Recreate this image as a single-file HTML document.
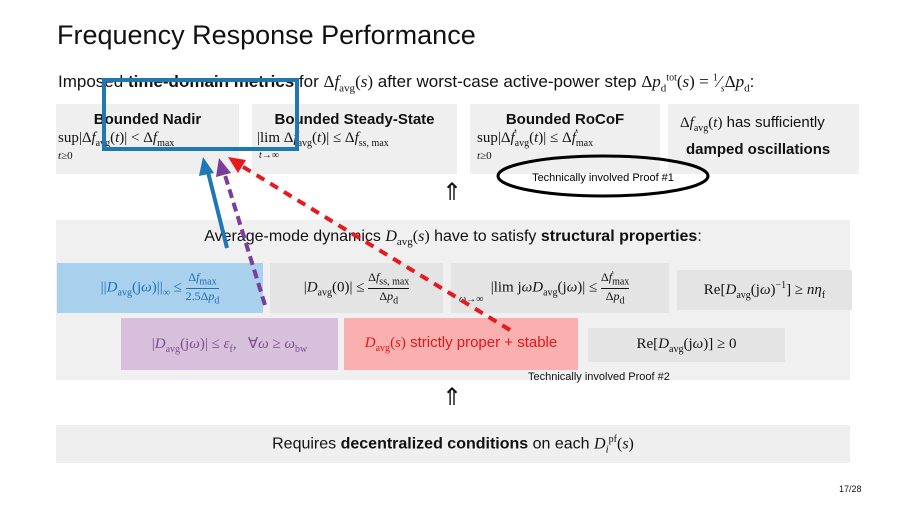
<!DOCTYPE html>
<html><head><meta charset="utf-8"><style>
body{margin:0;width:907px;height:510px;background:#fff;position:relative;overflow:hidden;font-family:"Liberation Sans",sans-serif;color:#111}
.a{position:absolute}
.g{position:absolute;background:#efefef}
.m{font-family:"Liberation Serif",serif;font-style:normal}
.i{font-family:"Liberation Serif",serif;font-style:italic}
.c{display:flex;align-items:center;justify-content:center;text-align:center}
</style></head><body>
<div class="a" style="left:57px;top:20px;font-size:27px;">Frequency Response Performance</div>
<div class="a" style="left:58px;top:72px;font-size:17px;white-space:nowrap">Imposed <b>time-domain metrics</b> for <span class="m">Δ<i>f</i><sub style="font-size:11px">avg</sub>(<i>s</i>)</span> after worst-case active-power step <span class="m">Δ<i>p</i><sub style="font-size:11px">d</sub><sup style="font-size:10px">tot</sup>(<i>s</i>) = <sup style="font-size:10px">1</sup>⁄<sub style="font-size:10px"><i>s</i></sub>Δ<i>p</i><sub style="font-size:11px">d</sub></span>:</div>

<div class="g" style="left:56px;top:104px;width:183px;height:70px"></div>
<div class="g" style="left:252px;top:104px;width:205px;height:70px"></div>
<div class="g" style="left:470px;top:104px;width:190px;height:70px"></div>
<div class="g" style="left:668px;top:104px;width:191px;height:70px"></div>
<div class="a" style="left:56px;top:111px;width:183px;text-align:center;font-size:15px;font-weight:bold">Bounded Nadir</div>
<div class="a m" style="left:58px;top:130px;font-size:15px;white-space:nowrap">sup|Δ<i>f</i><sub style="font-size:10px">avg</sub>(<i>t</i>)| &lt; Δ<i>f</i><sub style="font-size:10px">max</sub></div>
<div class="a m" style="left:58px;top:150px;font-size:11px"><i>t</i>≥0</div>
<div class="a" style="left:252px;top:111px;width:205px;text-align:center;font-size:15px;font-weight:bold">Bounded Steady-State</div>
<div class="a m" style="left:257px;top:130px;font-size:15px;white-space:nowrap">|lim Δ<i>f</i><sub style="font-size:10px">avg</sub>(<i>t</i>)| ≤ Δ<i>f</i><sub style="font-size:10px">ss, max</sub></div>
<div class="a m" style="left:259px;top:150px;font-size:10px"><i>t</i>→∞</div>
<div class="a" style="left:470px;top:111px;width:190px;text-align:center;font-size:15px;font-weight:bold">Bounded RoCoF</div>
<div class="a m" style="left:477px;top:130px;font-size:15px;white-space:nowrap">sup|Δ<i>ḟ</i><sub style="font-size:10px">avg</sub>(<i>t</i>)| ≤ Δ<i>ḟ</i><sub style="font-size:10px">max</sub></div>
<div class="a m" style="left:477px;top:150px;font-size:11px"><i>t</i>≥0</div>
<div class="a" style="left:680px;top:114px;font-size:15px;white-space:nowrap"><span class="m">Δ<i>f</i><sub style="font-size:10px">avg</sub>(<i>t</i>)</span> has sufficiently</div>
<div class="a" style="left:686px;top:141px;font-size:15px;font-weight:bold">damped oscillations</div>

<div class="a" style="left:442px;top:178px;font-size:24px">⇑</div>
<div class="a" style="left:442px;top:383px;font-size:24px">⇑</div>

<div class="g" style="left:56px;top:220px;width:794px;height:160px;background:#f0f0f0"></div>
<div class="a" style="left:56px;top:228px;width:794px;text-align:center;font-size:16px;white-space:nowrap">Average-mode dynamics <span class="i">D</span><sub class="m" style="font-size:11px">avg</sub><span class="m">(<i>s</i>)</span> have to satisfy <b>structural properties</b>:</div>

<div class="a c m" style="left:57px;top:263px;width:206px;height:50px;background:#a9d1ee;color:#1f6fb4;font-size:15px;white-space:nowrap"><span>||<i>D</i><sub style="font-size:10px">avg</sub>(j<i>ω</i>)||<sub style="font-size:10px">∞</sub> ≤ <span style="display:inline-block;text-align:center;font-size:12px;vertical-align:middle"><span style="display:block;border-bottom:1px solid #1f6fb4">Δ<i>f</i><sub>max</sub></span><span style="display:block">2.5Δ<i>p</i><sub>d</sub></span></span></span></div>
<div class="a c m" style="left:270px;top:263px;width:173px;height:50px;background:#e4e4e4;font-size:15px;white-space:nowrap"><span>|<i>D</i><sub style="font-size:10px">avg</sub>(0)| ≤ <span style="display:inline-block;text-align:center;font-size:12px;vertical-align:middle"><span style="display:block;border-bottom:1px solid #111">Δ<i>f</i><sub>ss, max</sub></span><span style="display:block">Δ<i>p</i><sub>d</sub></span></span></span></div>
<div class="a c m" style="left:451px;top:263px;width:218px;height:50px;background:#e4e4e4;font-size:15px;white-space:nowrap"><span>|lim j<i>ωD</i><sub style="font-size:10px">avg</sub>(j<i>ω</i>)| ≤ <span style="display:inline-block;text-align:center;font-size:12px;vertical-align:middle"><span style="display:block;border-bottom:1px solid #111">Δ<i>ḟ</i><sub>max</sub></span><span style="display:block">Δ<i>p</i><sub>d</sub></span></span></span></div>
<div class="a m" style="left:459px;top:294px;font-size:10px"><i>ω</i>→∞</div>
<div class="a c m" style="left:677px;top:270px;width:175px;height:40px;background:#e4e4e4;font-size:15px;white-space:nowrap"><span>Re[<i>D</i><sub style="font-size:10px">avg</sub>(j<i>ω</i>)<sup style="font-size:10px">−1</sup>] ≥ <i>nη</i><sub style="font-size:10px">f</sub></span></div>

<div class="a c m" style="left:121px;top:318px;width:217px;height:52px;background:#d8c0dd;color:#7a4f8a;font-size:15px;white-space:nowrap"><span>|<i>D</i><sub style="font-size:10px">avg</sub>(j<i>ω</i>)| ≤ <i>ε</i><sub style="font-size:10px">f</sub>,&nbsp;&nbsp; ∀<i>ω</i> ≥ <i>ω</i><sub style="font-size:10px">bw</sub></span></div>
<div class="a c" style="left:344px;top:318px;width:234px;height:52px;background:#fbb0b0;color:#e0181c;font-size:15px;white-space:nowrap"><span><span class="m"><i>D</i><sub style="font-size:10px">avg</sub>(<i>s</i>)</span>&nbsp;strictly proper + stable</span></div>
<div class="a c m" style="left:588px;top:328px;width:197px;height:34px;background:#e4e4e4;font-size:15px;white-space:nowrap"><span>Re[<i>D</i><sub style="font-size:10px">avg</sub>(j<i>ω</i>)] ≥ 0</span></div>
<div class="a" style="left:528px;top:371px;font-size:11px">Technically involved Proof #2</div>

<div class="g" style="left:56px;top:425px;width:794px;height:38px"></div>
<div class="a" style="left:56px;top:434px;width:794px;text-align:center;font-size:16px;white-space:nowrap">Requires <b>decentralized conditions</b> on each <span class="i">D</span><sub class="m" style="font-size:11px"><i>i</i></sub><sup class="m" style="font-size:10px">pf</sup><span class="m">(<i>s</i>)</span></div>
<div class="a" style="left:839px;top:484px;font-size:9px">17/28</div>

<svg class="a" style="left:0;top:0" width="907" height="510">
<rect x="104" y="80" width="193" height="69" fill="none" stroke="#1f77b4" stroke-width="4"/>
<ellipse cx="603" cy="176" rx="105" ry="20" fill="none" stroke="#000" stroke-width="3"/>
<text x="603" y="181" font-family="Liberation Sans" font-size="11" text-anchor="middle">Technically involved Proof #1</text>
<line x1="227" y1="248" x2="208" y2="172" stroke="#1f77b4" stroke-width="4"/>
<polygon points="203,157 199,176 214,173" fill="#1f77b4"/>
<line x1="265" y1="305" x2="224" y2="172" stroke="#7b3d9a" stroke-width="4" stroke-dasharray="9,5"/>
<polygon points="219,158 216,177 231,173" fill="#7b3d9a"/>
<line x1="510" y1="330" x2="240" y2="165" stroke="#e8191c" stroke-width="4" stroke-dasharray="9,7"/>
<polygon points="228,157 238,173 246,160" fill="#e8191c"/>
</svg>
</body></html>
